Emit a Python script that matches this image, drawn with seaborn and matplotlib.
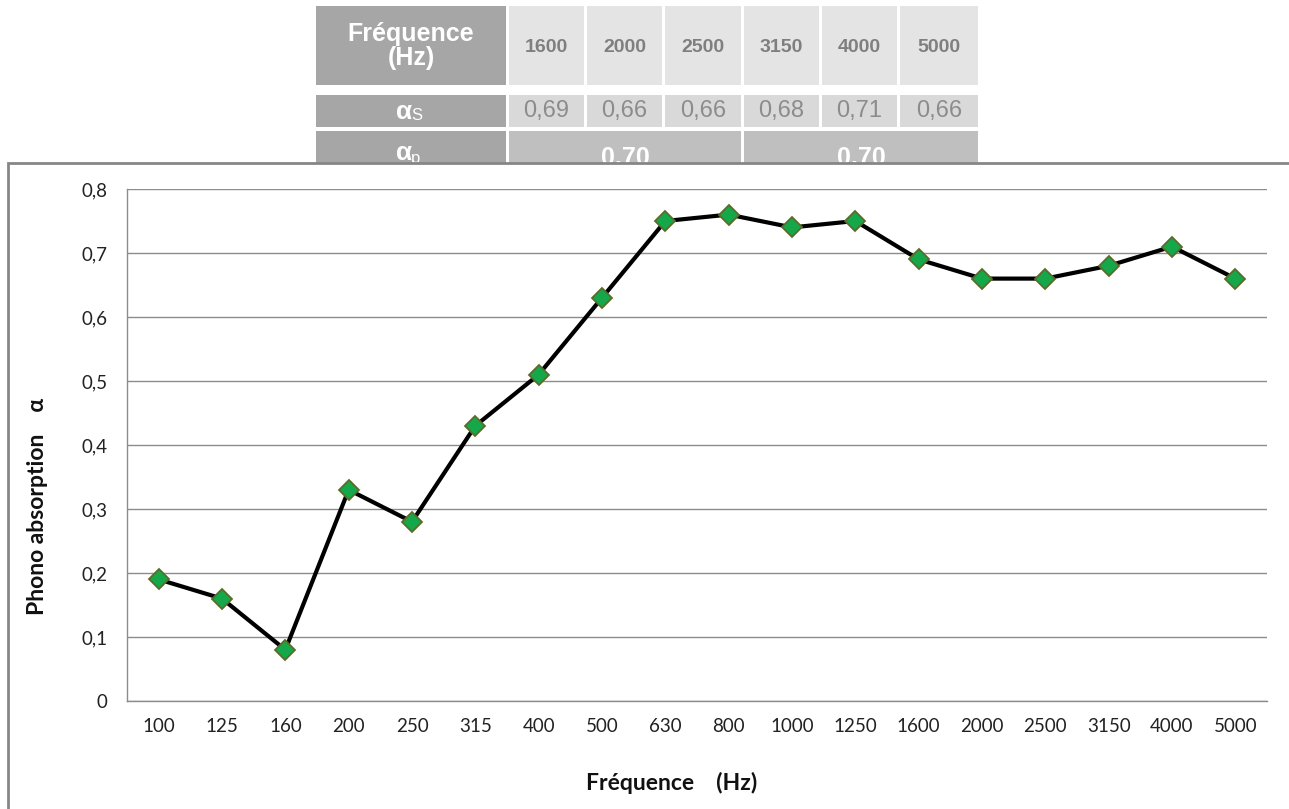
import numpy as np
import matplotlib
matplotlib.use('Agg')
import matplotlib.pyplot as plt
from matplotlib.patches import Rectangle
from matplotlib.ticker import FuncFormatter
import seaborn as sns

# data
freqs = ['100', '125', '160', '200', '250', '315', '400', '500', '630',
         '800', '1000', '1250', '1600', '2000', '2500', '3150', '4000', '5000']
alpha = [0.19, 0.16, 0.08, 0.33, 0.28, 0.43, 0.51, 0.63, 0.75,
         0.76, 0.74, 0.75, 0.69, 0.66, 0.66, 0.68, 0.71, 0.66]
table_freqs = ['1600', '2000', '2500', '3150', '4000', '5000']
alpha_s = [0.69, 0.66, 0.66, 0.68, 0.71, 0.66]
alpha_p = [0.70, 0.70]

sns.set_theme(style='white')
plt.rcParams['font.family'] = ['Lato', 'DejaVu Sans']

W, H = 1289, 809
fig = plt.figure(figsize=(W / 100, H / 100), dpi=100)
fig.patch.set_facecolor('white')


def px(x, y):
    # pixel coords (top-left origin) -> figure fraction
    return x / W, 1 - y / H


def cell(x0, y0, x1, y1, color):
    fx0, fy1 = px(x0, y1)
    fig.patches.append(Rectangle((fx0, fy1), (x1 - x0) / W, (y1 - y0) / H,
                                 transform=fig.transFigure, facecolor=color,
                                 edgecolor='none', zorder=-3))


def ctext(x, y, s, **kw):
    fx, fy = px(x, y)
    fig.text(fx, fy, s, ha='center', va='center', zorder=-2,
             family=['Liberation Sans', 'DejaVu Sans'], **kw)


# table above the chart (its last row is hidden by the chart frame)
col_x = [(509, 584), (587, 662), (665, 741), (744, 819), (822, 897), (900, 978)]
cell(316, 6, 506, 85, '#a6a6a6')
ctext(411, 46, 'Fréquence\n(Hz)', color='white', fontsize=18, fontweight='bold',
      linespacing=1.0)
for (a, b), f in zip(col_x, table_freqs):
    cell(a, 6, b, 85, '#e4e4e4')
    ctext((a + b) / 2, 48, f, color='#7f7f7f', fontsize=14, fontweight='bold')

cell(316, 95, 506, 127, '#a6a6a6')
ctext(404, 112, 'α', color='white', fontsize=19, fontweight='bold')
ctext(417, 116, 'S', color='white', fontsize=12)
for (a, b), v in zip(col_x, alpha_s):
    cell(a, 95, b, 127, '#d9d9d9')
    ctext((a + b) / 2, 111, f'{v:.2f}'.replace('.', ','), color='#8c8c8c',
          fontsize=17)

cell(316, 131, 506, 175, '#a6a6a6')
ctext(404, 153, 'α', color='white', fontsize=19, fontweight='bold')
ctext(416, 158, 'p', color='white', fontsize=12)
for (a, b), v in zip([(509, 741), (744, 978)], alpha_p):
    cell(a, 131, b, 175, '#bfbfbf')
    ctext((a + b) / 2, 158, f'{v:.2f}'.replace('.', ','), color='white',
          fontsize=18, fontweight='bold')

# chart frame covering the bottom of the table
fx0, fy0 = px(8, 830)
fig.patches.append(Rectangle((fx0, fy0), (1320 - 8) / W, (830 - 163) / H,
                             transform=fig.transFigure, facecolor='white',
                             edgecolor='#868686', linewidth=2, zorder=-1))

# chart
ax = fig.add_axes([127 / W, (H - 701) / H, (1267 - 127) / W, (701 - 189) / H])
ax.set_facecolor('none')
x_pos = np.arange(len(freqs))
sns.lineplot(x=x_pos, y=alpha, ax=ax, color='black', linewidth=3,
             marker='D', markersize=10, markerfacecolor='#14a84a',
             markeredgecolor='#5b6b2a', markeredgewidth=1.3)

ax.set_xlim(-0.5, len(freqs) - 0.5)
ax.set_ylim(0, 0.8)
ax.set_xticks(x_pos)
ax.set_xticklabels(freqs)
ax.set_yticks(np.arange(0, 0.81, 0.1))
ax.yaxis.set_major_formatter(FuncFormatter(
    lambda v, p: '0' if abs(v) < 1e-9 else f'{v:.1f}'.replace('.', ',')))
ax.tick_params(axis='y', length=8, width=1, color='#868686', direction='out',
               labelsize=13.5, pad=6, labelcolor='#222222')
ax.tick_params(axis='x', length=0, labelsize=13.5, pad=12, labelcolor='#222222')
ax.grid(axis='y', color='#8c8c8c', linewidth=1)
ax.grid(axis='x', visible=False)
for s in ['top', 'right']:
    ax.spines[s].set_visible(False)
for s in ['left', 'bottom']:
    ax.spines[s].set_color('#8c8c8c')
    ax.spines[s].set_linewidth(1)

ax.set_xlabel('Fréquence    (Hz)', fontsize=16.5, fontweight='bold', color='#111111')
ax.set_ylabel('Phono absorption    α', fontsize=16.5, fontweight='bold',
              color='#111111')
ax.xaxis.set_label_coords((672 - 127) / (1267 - 127), -(772 - 701) / (701 - 189))
ax.yaxis.set_label_coords(-(127 - 48) / (1267 - 127), (701 - 506) / (701 - 189))

fig.savefig('out.png', dpi=100)
